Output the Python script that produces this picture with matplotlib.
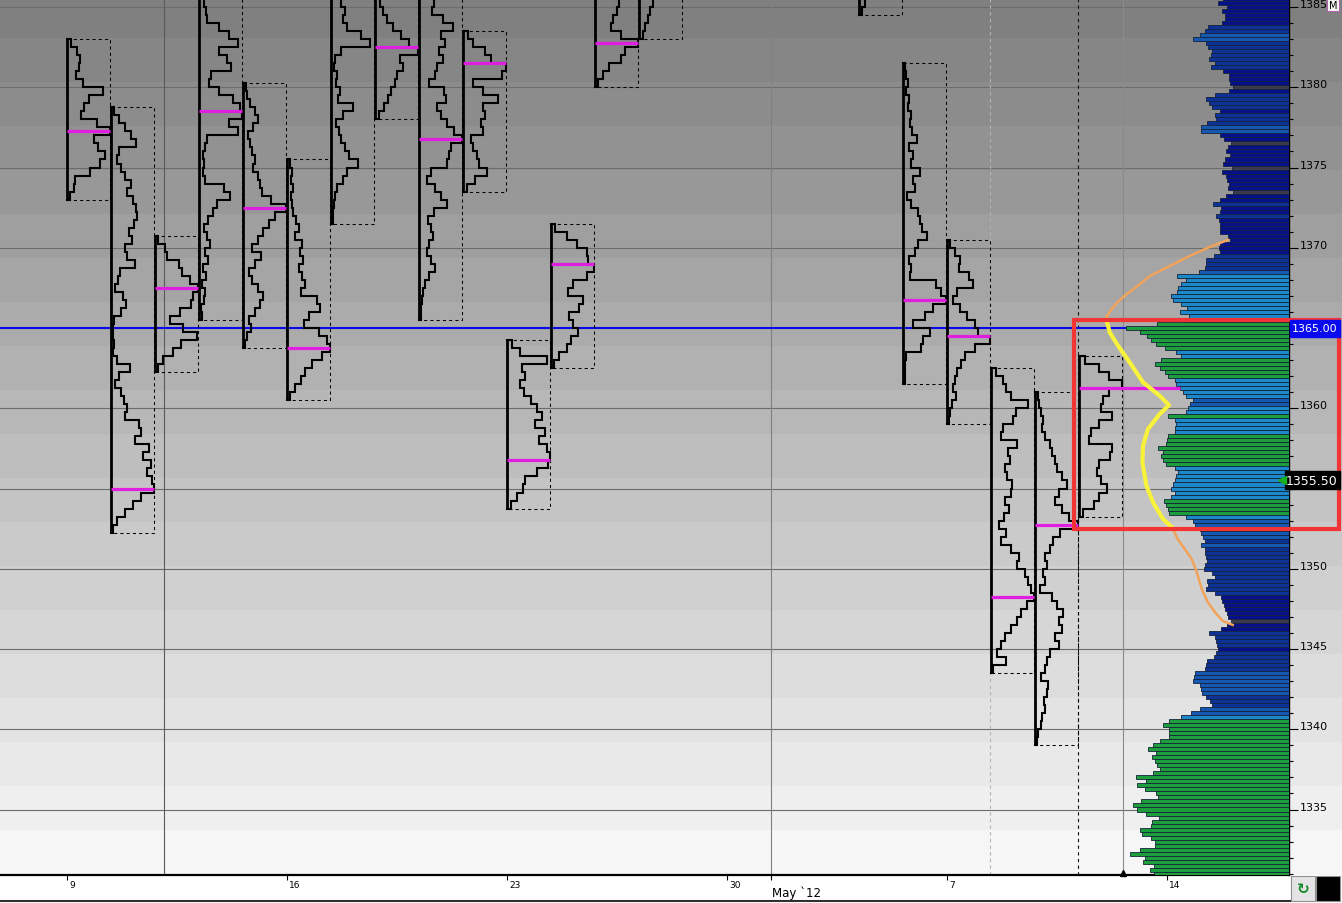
import numpy as np
import matplotlib
matplotlib.use("Agg")
import matplotlib.pyplot as plt
import matplotlib.transforms as mtransforms
from matplotlib.colors import ListedColormap, BoundaryNorm
from matplotlib.patches import Rectangle
from matplotlib.lines import Line2D

plt.rcParams['font.family'] = ['DejaVu Sans']

# ---------------- data ----------------
# daily TPO profiles (trading day index from Apr 9 2012), 0.5 pt rows, top -> bottom
row = 0.5
full_tpo = 43
p_days = [0, 1, 2, 3, 4, 5, 6, 7, 8, 9, 10, 11, 12, 13, 18, 19, 20, 21, 22, 23]
p_tops = [1383.0, 1378.75, 1370.75, 1386.0, 1380.25, 1375.5, 1386.0, 1386.0, 1386.0, 1383.5,
          1364.25, 1371.5, 1386.0, 1386.0, 1386.0, 1381.5, 1370.5, 1362.5, 1361.0, 1363.25]
p_pocs = [1377.25, 1355.0, 1367.5, 1378.5, 1372.5, 1363.75, None, 1382.5, 1376.75, 1381.5,
          1356.75, 1369.0, 1382.75, None, None, 1366.75, 1364.5, 1348.25, 1352.75, 1361.25]
p_tpo = [
    [4, 10, 13, 12, 9, 16, 36, 22, 17, 14, 30, 43, 27, 31, 38, 33, 23, 8, 7, 3],
    [3, 8, 14, 20, 25, 8, 6, 10, 14, 20, 16, 22, 25, 26, 23, 18, 21, 14, 16, 24, 9, 7, 4, 12, 15,
     10, 3, 2, 2, 3, 2, 6, 19, 8, 4, 10, 13, 16, 14, 28, 30, 24, 38, 32, 40, 36, 41, 43, 30, 22,
     14, 6, 2],
    [3, 10, 12, 24, 27, 35, 43, 38, 36, 25, 15, 28, 42, 26, 18, 8, 3],
    [5, 5, 7, 8, 20, 30, 39, 20, 28, 32, 12, 10, 20, 34, 41, 43, 30, 39, 8, 6, 4, 5, 4, 6, 25,
     31, 18, 14, 9, 5, 8, 11, 6, 9, 4, 7, 3, 6, 5, 2, 3],
    [3, 4, 7, 12, 15, 10, 5, 7, 9, 12, 10, 15, 17, 19, 28, 43, 32, 26, 20, 15, 9, 18, 12, 6, 9,
     15, 20, 17, 12, 6, 8, 4, 2],
    [3, 5, 4, 6, 4, 5, 6, 9, 12, 8, 15, 13, 16, 12, 15, 18, 14, 30, 33, 22, 17, 32, 40, 43, 35,
     25, 18, 14, 8, 3],
    [12, 10, 14, 12, 16, 30, 39, 10, 4, 3, 6, 5, 9, 7, 22, 12, 5, 8, 10, 14, 18, 27, 16, 12, 6,
     4, 3, 2, 2],
    [4, 5, 8, 12, 18, 26, 34, 43, 25, 28, 22, 20, 16, 13, 9, 4],
    [14, 15, 13, 24, 34, 22, 26, 20, 24, 18, 16, 10, 25, 27, 18, 22, 28, 35, 43, 32, 30, 28, 12,
     8, 16, 22, 28, 15, 9, 12, 14, 10, 8, 12, 16, 10, 6, 4, 3, 2, 2],
    [5, 10, 22, 28, 43, 39, 10, 20, 35, 20, 22, 18, 20, 8, 10, 14, 16, 24, 12, 4],
    [5, 13, 40, 15, 18, 13, 17, 24, 30, 35, 28, 38, 32, 40, 43, 41, 30, 18, 16, 10, 4],
    [4, 16, 26, 36, 37, 43, 36, 22, 17, 32, 28, 18, 22, 27, 20, 16, 8, 3],
    [20, 24, 22, 18, 16, 26, 43, 30, 26, 14, 8, 3],
    [15, 14, 11, 9, 6, 4],
    [3, 6, 3],
    [2, 3, 5, 3, 6, 5, 8, 7, 9, 14, 6, 10, 8, 17, 10, 12, 4, 8, 15, 17, 19, 24, 15, 12, 6, 8, 7,
     33, 38, 43, 30, 22, 10, 27, 20, 18, 3, 2, 2, 2],
    [3, 8, 13, 12, 22, 26, 10, 6, 13, 20, 28, 31, 43, 28, 18, 14, 10, 8, 6, 9, 5, 3, 2],
    [5, 12, 15, 20, 37, 25, 22, 12, 10, 26, 17, 19, 14, 16, 21, 20, 14, 18, 13, 8, 15, 10, 20,
     28, 26, 34, 37, 40, 43, 36, 30, 26, 20, 14, 10, 6, 15, 2],
    [3, 4, 6, 8, 7, 10, 15, 17, 20, 22, 27, 32, 24, 20, 27, 34, 43, 25, 18, 15, 10, 12, 8, 10, 5,
     17, 22, 28, 24, 27, 20, 24, 15, 12, 10, 6, 13, 12, 9, 10, 7, 6, 3, 2],
    [6, 20, 30, 43, 30, 24, 22, 33, 20, 12, 10, 33, 31, 20, 18, 22, 28, 20, 15, 4],
]
live_day = 23

# composite volume profile, 0.25 pt ticks from 1385.5 down
vp_top = 1385.5
vp_tick = 0.25
vp_vol = [
    66, 71, 62, 67, 64, 64, 67, 81, 84, 89,
    96, 83, 81, 77, 78, 80, 74, 78, 66, 60,
    60, 59, 56, 60, 74, 83, 80, 77, 69, 74,
    73, 82, 88, 88, 69, 65, 58, 61, 63, 59,
    64, 66, 57, 67, 63, 62, 60, 61, 56, 63,
    69, 76, 68, 69, 73, 70, 69, 69, 69, 61,
    59, 69, 70, 69, 75, 83, 83, 84, 90, 112,
    103, 108, 111, 112, 118, 116, 108, 102, 109, 100,
    100, 132, 163, 149, 142, 138, 133, 124, 113, 108,
    128, 134, 129, 124, 121, 114, 113, 109, 106, 103,
    96, 99, 101, 103, 121, 114, 113, 114, 114, 121,
    122, 123, 131, 126, 128, 126, 123, 114, 111, 113,
    114, 116, 118, 114, 118, 125, 123, 121, 120, 103,
    96, 94, 89, 88, 86, 84, 88, 84, 84, 83,
    82, 84, 85, 77, 74, 82, 81, 83, 74, 68,
    67, 65, 64, 62, 61, 58, 62, 68, 80, 74,
    73, 72, 71, 73, 75, 82, 83, 84, 94, 95,
    96, 89, 88, 87, 83, 79, 77, 89, 98, 108,
    120, 126, 120, 120, 120, 129, 136, 141, 133, 137,
    134, 132, 129, 136, 153, 143, 152, 144, 133, 131,
    148, 156, 152, 143, 130, 137, 138, 149, 147, 138,
    134, 134, 149, 159, 144, 146, 135, 139, 135,
]
vol_bounds = [0, 58.5, 72, 86, 100, 119.5, 1000]
vol_colors = ['#3a3a4c', '#06108a', '#0c3298', '#1458b2', '#1b88ca', '#1c9e3c']

# smoothed profile curves (price, volume units)
yellow_px = [1365.52, 1364.73, 1363.90, 1362.86, 1361.62, 1360.78, 1360.20, 1359.64, 1358.71,
             1357.67, 1356.63, 1355.18, 1354.14, 1353.10, 1352.52]
yellow_vol = [182.6, 179.3, 171, 159.3, 146, 129.3, 120, 129.3, 141, 146, 146.6, 142.6, 136, 126, 116]
orange_up_px = [1365.69, 1366.19, 1366.62, 1367.12, 1367.62, 1368.24, 1368.86, 1369.49, 1370.05, 1370.48]
orange_up_vol = [182.6, 177.3, 171.3, 162.3, 151.3, 139.3, 119.3, 99.3, 79.3, 61.3]
orange_dn_px = [1352.48, 1351.85, 1351.23, 1350.61, 1349.80, 1348.74, 1347.93, 1347.31, 1346.75, 1346.50]
orange_dn_vol = [116, 111.3, 104.3, 97.3, 92.3, 87.3, 81.3, 74.3, 66.3, 56.3]

ref_price = 1365.0
last_price = 1355.5

price_ticks = [1335, 1340, 1345, 1350, 1355, 1360, 1365, 1370, 1375, 1380, 1385]
price_labels = ['1335', '1340', '1345', '1350', '', '1360', '', '1370', '1375', '1380', '1385']
week_days = [0, 5, 10, 15, 20, 25]
week_labels = ['9', '16', '23', '30', '7', '14']
month_day = 16
month_label = 'May `12'

# ---------------- figure ----------------
W, H = 1342, 904
fig = plt.figure(figsize=(W / 100, H / 100), dpi=100, facecolor='white')

# banded grey background (also behind the price scale)
ax_bg = fig.add_axes([0, 28 / H, 1, 876 / H])
ax_bg.set_xlim(0, 1)
ax_bg.set_ylim(876, 0)
ax_bg.axis('off')
n_band = 20
greys = np.linspace(0x80, 0xf6, n_band) / 255.0
bands = np.repeat(greys[:, None, None], 3, axis=2)
ax_bg.imshow(bands, extent=(0, 1, -5 + n_band * 44, -5), aspect='auto', interpolation='nearest')
ax_bg.add_patch(Rectangle((0, 870), 1, 6, color='#f6f6f6', zorder=-1))

ax = fig.add_axes([0, 28 / H, 1289 / W, 876 / H])
ax.set_facecolor('none')
x_left, x_right = -67 / 44, 1222 / 44
ax.set_xlim(x_left, x_right)
ax.set_ylim(1365 - 547 / 16.05, 1385.5)
day_w = 1.0 / 44
box_w = full_tpo * day_w

for s in ['top', 'left']:
    ax.spines[s].set_visible(False)
ax.spines['bottom'].set_linewidth(1.6)
ax.spines['right'].set_linewidth(1.0)

ax.yaxis.grid(True, which='major', color='#6c6c6c', lw=0.8)
ax.set_axisbelow(True)

# session / cursor lines
ax.axvline(2.2, color='#5a5a5a', lw=0.8, zorder=1)
ax.axvline(month_day, color='#808080', lw=0.8, zorder=1)
ax.axvline(20.98, color='#b4b4b4', lw=0.8, ls=(0, (3, 3)), zorder=1)
ax.axvline(22.98, color='#111111', lw=0.8, ls=(0, (3, 3)), zorder=1)
ax.axvline(24, color='#8a8a8a', lw=0.8, zorder=1)
ax.plot([24], [ax.get_ylim()[0] + 0.15], marker='^', color='k', ms=5, zorder=8, clip_on=False)

ax.axhline(ref_price, color='#0a0ae6', lw=1.5, zorder=2)

# volume profile bars
cmap = ListedColormap(vol_colors)
norm = BoundaryNorm(vol_bounds, cmap.N)
vols = np.array(vp_vol, dtype=float)
vp_prices = vp_top - vp_tick * np.arange(len(vols))
vw = vols * day_w
ax.barh(vp_prices, vw, left=x_right - vw, height=vp_tick, color=cmap(norm(vols)),
        edgecolor='#16233a', linewidth=0.6, zorder=3)

# TPO profiles
for day, top, poc, tpo in zip(p_days, p_tops, p_pocs, p_tpo):
    w = np.array(tpo) / full_tpo * box_w
    edges = top - row * np.arange(len(w) + 1)
    bot = edges[-1]
    xs, ys = [day], [top]
    for i in range(len(w)):
        xs += [day + w[i], day + w[i]]
        ys += [edges[i], edges[i + 1]]
    xs.append(day)
    ys.append(bot)
    ax.plot([day, day + box_w, day + box_w, day], [top, top, bot, bot],
            color='k', lw=0.75, ls=(0, (3, 3)), zorder=4)
    ax.plot(xs, ys, color='k', lw=1.5, zorder=5, solid_joinstyle='miter')
    ax.plot([day, day], [bot, top], color='k', lw=2.0, zorder=6, solid_capstyle='butt')
    if poc is not None:
        x_end = day + box_w
        if day == live_day:
            j = int(round((vp_top - poc) / vp_tick))
            x_end = x_right - vw[j]
        ax.plot([day, x_end], [poc, poc], color='#e01ee0', lw=2.3, zorder=7,
                solid_capstyle='butt')

# smoothed curves
ax.plot(x_right - np.array(orange_up_vol) * day_w, orange_up_px, color='#f2a35a', lw=1.8, zorder=8)
ax.plot(x_right - np.array(orange_dn_vol) * day_w, orange_dn_px, color='#f2a35a', lw=1.8, zorder=8)
ax.plot(x_right - np.array(yellow_vol) * day_w, yellow_px, color='#f8f23a', lw=3.0, zorder=9,
        solid_joinstyle='round', solid_capstyle='round')

# red highlight box
ax.add_patch(Rectangle((22.89, 1352.48), 28.91 - 22.89, 1365.53 - 1352.48, fill=False,
                       edgecolor='#f23434', lw=3.0, zorder=10, clip_on=False))

# price scale on the right
ax.yaxis.tick_right()
ax.set_yticks(price_ticks, price_labels)
ax.yaxis.set_minor_locator(matplotlib.ticker.MultipleLocator(1))
ax.tick_params(axis='y', which='major', direction='out', length=6.5, width=0.8,
               labelsize=8, pad=1, colors='k')
ax.tick_params(axis='y', which='minor', direction='out', length=3, width=0.8, colors='k')
for lbl in ax.get_yticklabels():
    lbl.set_va('baseline')

yb = mtransforms.blended_transform_factory(fig.transFigure, ax.transData)
ax.add_patch(Rectangle((1290 / W, ref_price - 0.53), 50 / W, 1.06, transform=yb,
                       color='#0a0af0', zorder=11, clip_on=False))
ax.text(1315 / W, ref_price, f'{ref_price:.2f}', transform=yb, color='white', fontsize=8,
        ha='center', va='center', zorder=12, clip_on=False)
ax.add_patch(Rectangle((1285 / W, last_price - 0.56), 55 / W, 1.12, transform=yb,
                       color='black', zorder=11, clip_on=False))
ax.text(1312 / W, last_price, f'{last_price:.2f}', transform=yb, color='white', fontsize=9,
        ha='center', va='center', zorder=12, clip_on=False)
ax.plot([1282 / W], [last_price], transform=yb, marker='<', color='#18b020', ms=6,
        zorder=12, clip_on=False)

# date scale
ax.set_xticks(week_days + [month_day])
ax.set_xticklabels([])
ax.tick_params(axis='x', direction='out', length=3.5, width=0.8, colors='k')
xb = mtransforms.blended_transform_factory(ax.transData, fig.transFigure)
for d, lab in zip(week_days, week_labels):
    ax.text(d + 0.05, (H - 888) / H, lab, transform=xb, fontsize=6.5, ha='left', va='baseline')
ax.text(month_day + 0.02, (H - 897) / H, month_label, transform=xb, fontsize=8.5,
        ha='left', va='baseline')

fig.add_artist(Line2D([0, 1290 / W], [2 / H, 2 / H], color='#303030', lw=1.5))
fig.add_artist(Rectangle((1291 / W, 2 / H), 24 / W, 25 / H, transform=fig.transFigure,
                         facecolor='#e4e4e4', edgecolor='#909090', lw=0.8))
fig.add_artist(Rectangle((1316 / W, 2 / H), 24 / W, 25 / H, transform=fig.transFigure,
                         facecolor='black', edgecolor='#909090', lw=0.8))
fig.text(1303 / W, 14 / H, '\u21bb', color='#1a8a2a', fontsize=11, ha='center', va='center',
         fontweight='bold')
fig.text(1333 / W, (H - 6) / H, 'M', fontsize=7, ha='center', va='center',
         bbox=dict(boxstyle='square,pad=0.15', facecolor='#f4f4f4', edgecolor='#b050b0', lw=0.6))

fig.savefig('out.png', dpi=100)
